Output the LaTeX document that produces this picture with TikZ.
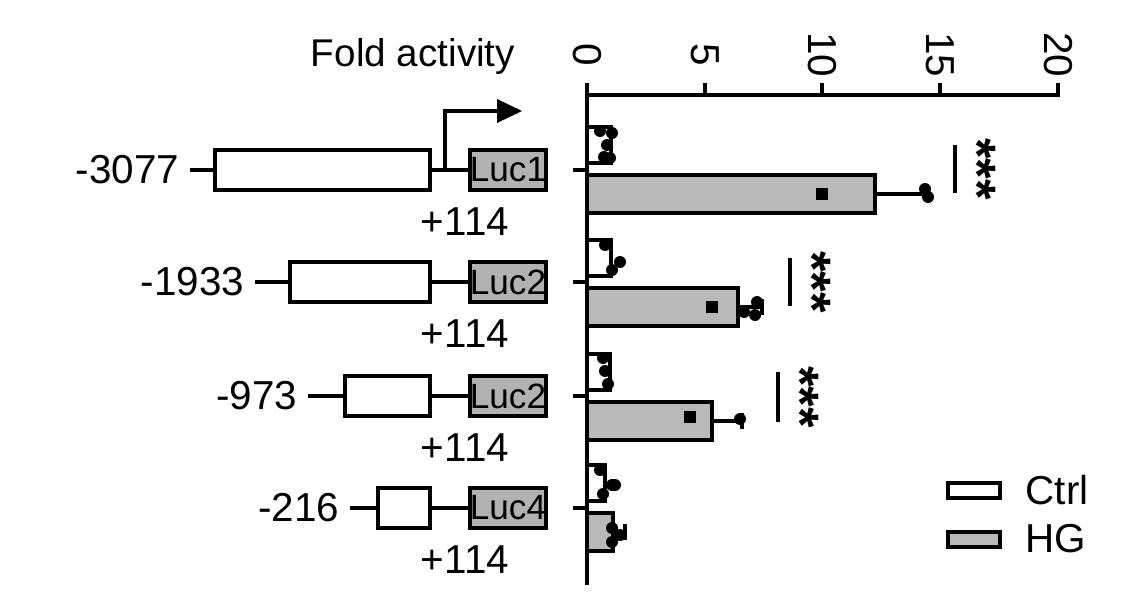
\documentclass[tikz,border=0pt]{standalone}
\usepackage{fontspec}
\setmainfont{Liberation Sans}
\begin{document}
\begin{tikzpicture}[x=0.02cm,y=-0.02cm,line width=2.2pt,
 lbl/.style={font=\fontsize{23}{26}\selectfont},
 prom/.style={draw,fill=white,line width=2.6pt},
 luc/.style={draw,fill=gray!60,line width=2.2pt,inner sep=0pt,minimum width=1.5cm,minimum height=0.8cm,font=\fontsize{20}{22}\selectfont},
 ctrl/.style={draw,fill=white,line width=2pt},
 hg/.style={draw,fill=gray!55,line width=2pt},
 star/.style={font=\fontsize{30}{32}\selectfont\bfseries,rotate=-90}]
\useasboundingbox (0,0) rectangle (1144,595);
% axes
\draw (587,95) -- (587,585);
\draw (587,95) -- (1060,95);
\foreach \v/\x in {0/587,5/705,10/822,15/940,20/1058}{
 \draw (\x,95) -- (\x,83);
 \node[lbl,rotate=-90] (t\v) at (\x,55) {\v};}
\node[lbl,font=\fontsize{22}{24}\selectfont] (fa) at (413,57) {Fold activity};
\foreach \y in {170,282,396,508}{\draw (573,\y) -- (587,\y);}
% constructs
\foreach \i/\y/\s/\b/\t/\lab in {1/170/190/215/-3077/Luc1,2/282/255/290/-1933/Luc2,3/396/308/345/-973/Luc2,4/508/350/378/-216/Luc4}{
 \coordinate (s\i) at (\s,\y);
 \node[luc] (l\i) at (508,\y) {\lab};
 \draw (s\i) -- (l\i.west);
 \draw[prom] (\b,\y-20) rectangle (430,\y+20);
 \node[lbl,anchor=east] (n\i) at (\s-3,\y) {\t};
 \node[lbl] (p\i) at (465,\y+52) {+114};
}
\coordinate (a0) at (445,170);
\coordinate (a1) at (445,111);
\draw[line width=2.4pt] (a0) -- (a1) -- (500,111);
\fill (497,99) -- (522,111) -- (497,123) -- cycle;
% bars
\foreach \y/\c/\h/\e in {127/611/875/928,240/611/738/762,354/610/712/742,465/605/613/625}{
 \draw[ctrl] (587,\y) rectangle (\c,\y+36);
 \draw[hg] (587,\y+48) rectangle (\h,\y+86);
 \draw (\h,\y+67) -- (\e,\y+67);
 \draw (\e,\y+59) -- (\e,\y+75);
}
% data points
\foreach \x/\y in {600/131,612/133,607/145,604/157,610/158,
 925/189,928/197,
 605/245,620/262,612/270,
 757/302,744/312,755/315,
 603/358,605/371,608/384,
 740/419,
 600/470,615/485,603/494,612/485,
 612/528,620/535,612/542}{\fill (\x,\y) circle (6);}
\foreach \x/\y in {822/194,712/307,690/417}{\fill (\x-6,\y-6) rectangle (\x+6,\y+6);}
% significance
\draw (955,145) -- (955,193);
\node[star] (s1) at (978,169) {***};
\draw (790,258) -- (790,306);
\node[star] (s2) at (813,282) {***};
\draw (778,372) -- (778,422);
\node[star] (s3) at (801,397) {***};
% legend
\draw[ctrl] (948,483) rectangle (1000,498);
\draw[hg] (948,532) rectangle (1000,547);
\node[lbl,anchor=west] (lc) at (1018,490) {Ctrl};
\node[lbl,anchor=west] (lh) at (1018,539) {HG};
\end{tikzpicture}
\end{document}
